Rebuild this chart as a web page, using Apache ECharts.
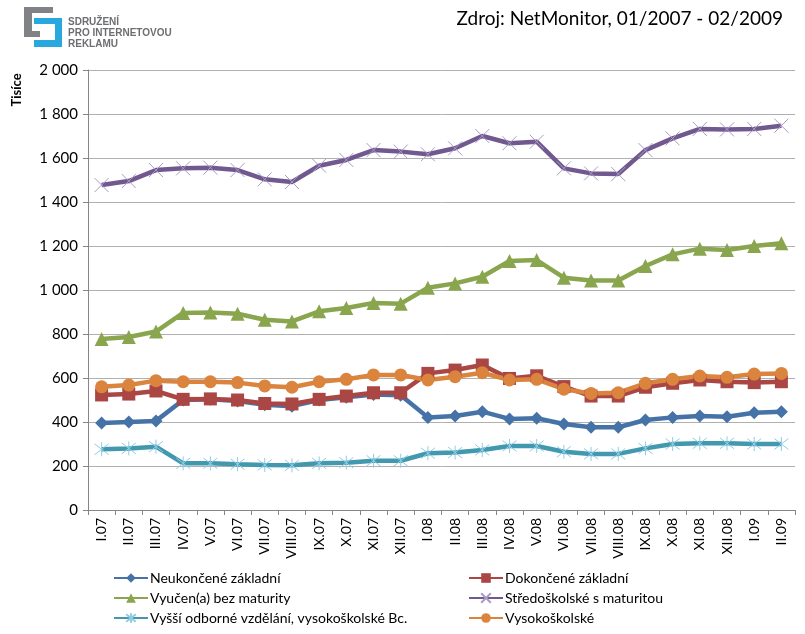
<!DOCTYPE html>
<html>
<head>
<meta charset="utf-8">
<script src="https://cdn.jsdelivr.net/npm/echarts@6/dist/echarts.min.js"></script>
<style>
html,body{margin:0;padding:0;background:#fff;}
#c{width:805px;height:634px;}
</style>
</head>
<body>
<div id="c"></div>
<script>
const categories = ['I.07','II.07','III.07','IV.07','V.07','VI.07','VII.07','VIII.07','IX.07','X.07','XI.07','XII.07','I.08','II.08','III.08','IV.08','V.08','VI.08','VII.08','VIII.08','IX.08','X.08','XI.08','XII.08','I.09','II.09'];
const neukoncene = [395,400,405,500,503,495,478,472,500,512,525,522,421,427,447,414,417,391,376,376,409,421,427,424,442,447];
const dokoncene = [523,527,541,503,505,500,484,482,503,518,533,533,621,636,659,598,610,561,518,518,558,576,591,583,579,583];
const vyucen = [777,786,811,896,898,892,865,857,903,918,941,938,1010,1030,1060,1132,1136,1056,1043,1043,1109,1162,1188,1182,1200,1213];
const stredoskolske = [1477,1495,1545,1553,1556,1545,1503,1491,1565,1591,1636,1629,1617,1644,1700,1667,1674,1553,1530,1527,1636,1689,1732,1730,1732,1747];
const vyssi = [276,280,288,212,212,208,205,203,212,215,224,224,258,261,273,291,291,265,255,255,280,300,303,303,300,300];
const vysokoskolske = [560,568,588,583,583,579,564,558,583,594,614,614,591,606,624,591,594,549,530,533,576,594,609,603,618,621];
const yTicks = [0,200,400,600,800,1000,1200,1400,1600,1800,2000];
const seriesNames = ['Neukončené základní','Dokončené základní','Vyučen(a) bez maturity','Středoškolské s maturitou','Vyšší odborné vzdělání, vysokoškolské Bc.','Vysokoškolské'];

const FONT = 'Lato, "Open Sans", sans-serif';
const chart = echarts.init(document.getElementById('c'), null, {renderer:'canvas'});

function fmt(v){ return v >= 1000 ? String(v).replace(/(\d)(\d{3})$/, '$1 $2') : String(v); }

const crossPath = 'path://M0,0L10,10M10,0L0,10';
const starPath = 'path://M0,0L10,10M10,0L0,10M5,-1.5L5,11.5';

const legendText = {fontSize:14, fontFamily:FONT, color:'#000', lineHeight:14, padding:[0,0,0,-3]};

chart.setOption({
  animation:false,
  backgroundColor:'#fff',
  grid:{left:88, right:10, top:70, bottom:124, containLabel:false},
  xAxis:{
    type:'category', data:categories, boundaryGap:true,
    axisLine:{lineStyle:{color:'#868686', width:1}},
    axisTick:{show:true, length:5, lineStyle:{color:'#868686'}},
    axisLabel:{rotate:90, color:'#000', fontSize:14, fontFamily:FONT, margin:8}
  },
  yAxis:{
    type:'value', min:0, max:2000, interval:200,
    axisLine:{show:true, lineStyle:{color:'#868686'}},
    axisTick:{show:true, length:5, lineStyle:{color:'#868686'}},
    splitLine:{lineStyle:{color:'#b0b0b0', width:1}},
    axisLabel:{color:'#000', fontSize:15, fontFamily:FONT, margin:10, formatter:function(v){ return yTicks.indexOf(v)>=0 ? fmt(v) : ''; }}
  },
  legend:[
    {data:[seriesNames[0],seriesNames[2],seriesNames[4]], orient:'vertical', left:113, top:571, height:80, padding:0, itemGap:6, itemWidth:34, itemHeight:12,
     textStyle:legendText},
    {data:[seriesNames[1],seriesNames[3],seriesNames[5]], orient:'vertical', left:468, top:571, height:80, padding:0, itemGap:6, itemWidth:34, itemHeight:12,
     textStyle:legendText}
  ],
  graphic:[
    {type:'text', right:22, top:9, style:{text:'Zdroj: NetMonitor, 01/2007 - 02/2009', fontSize:19, fontFamily:FONT, fill:'#000'}},
    {type:'text', x:17, y:90, rotation:Math.PI/2, style:{text:'Tisíce', fontSize:13, fontWeight:'bold', fontFamily:FONT, fill:'#000', align:'center', verticalAlign:'middle'}},
    {type:'group', children:[
      {type:'rect', shape:{x:24,y:7,width:29,height:6}, style:{fill:'#808285'}},
      {type:'rect', shape:{x:24,y:7,width:8,height:30}, style:{fill:'#808285'}},
      {type:'rect', shape:{x:24,y:31,width:16,height:6}, style:{fill:'#808285'}},
      {type:'rect', shape:{x:34,y:18,width:28,height:6}, style:{fill:'#29a8e0'}},
      {type:'rect', shape:{x:55,y:18,width:7,height:29}, style:{fill:'#29a8e0'}},
      {type:'rect', shape:{x:34,y:40,width:28,height:7}, style:{fill:'#29a8e0'}},
      {type:'text', x:68, y:17, style:{text:'SDRUŽENÍ', fontSize:10, fontWeight:'bold', fontFamily:'"Liberation Sans", sans-serif', fill:'#6d6e71'}},
      {type:'text', x:68, y:28, style:{text:'PRO INTERNETOVOU', fontSize:10, fontWeight:'bold', fontFamily:'"Liberation Sans", sans-serif', fill:'#6d6e71'}},
      {type:'text', x:68, y:39, style:{text:'REKLAMU', fontSize:10, fontWeight:'bold', fontFamily:'"Liberation Sans", sans-serif', fill:'#6d6e71'}}
    ]}
  ],
  series:[
    {name:seriesNames[0], type:'line', data:neukoncene, symbol:'diamond', symbolSize:13,
     lineStyle:{color:'#4572A7', width:4.5}, itemStyle:{color:'#4572A7'}},
    {name:seriesNames[1], type:'line', data:dokoncene, symbol:'rect', symbolSize:13,
     lineStyle:{color:'#AA4643', width:4.5}, itemStyle:{color:'#AA4643'}},
    {name:seriesNames[2], type:'line', data:vyucen, symbol:'triangle', symbolSize:14,
     lineStyle:{color:'#89A54E', width:4.5}, itemStyle:{color:'#89A54E'}},
    {name:seriesNames[3], type:'line', data:stredoskolske, symbol:crossPath, symbolSize:14,
     lineStyle:{color:'#71588F', width:4.5}, itemStyle:{color:'rgba(0,0,0,0)', borderColor:'#a99bc6', borderWidth:1}},
    {name:seriesNames[4], type:'line', data:vyssi, symbol:starPath, symbolSize:14,
     lineStyle:{color:'#4198AF', width:4.5}, itemStyle:{color:'rgba(0,0,0,0)', borderColor:'#8fcde3', borderWidth:1}},
    {name:seriesNames[5], type:'line', data:vysokoskolske, symbol:'circle', symbolSize:13,
     lineStyle:{color:'#DB843D', width:4.5}, itemStyle:{color:'#DB843D'}}
  ]
});
</script>
</body>
</html>
